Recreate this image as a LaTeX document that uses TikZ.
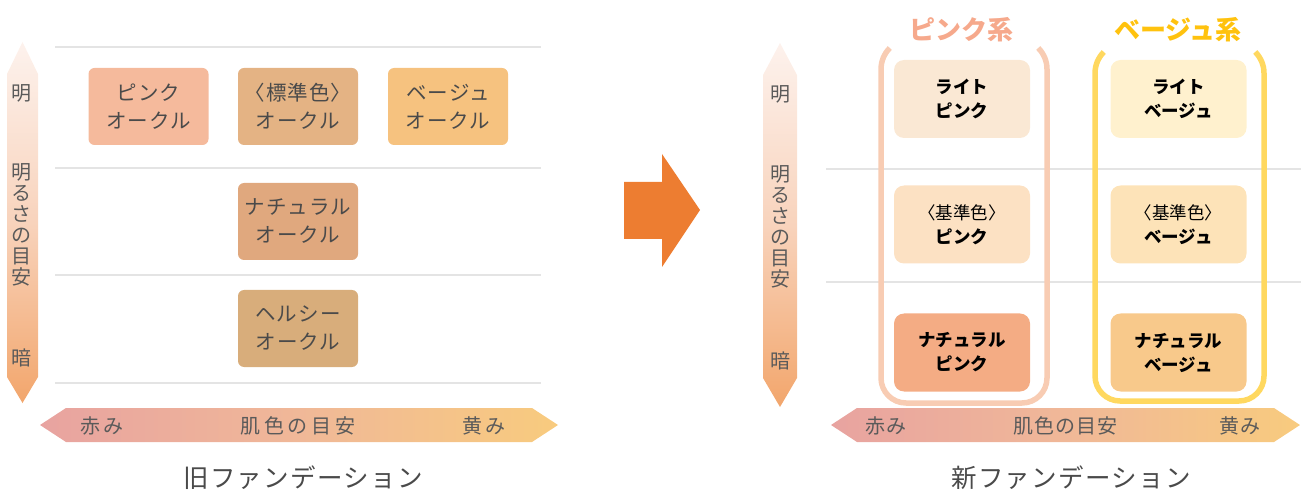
\documentclass[tikz,border=0pt]{standalone}
\usepackage{fontspec}
\setmainfont{Noto Sans CJK JP}
\newfontfamily\jpwide[LetterSpace=5]{Noto Sans CJK JP}
\newfontfamily\jpwider[LetterSpace=18]{Noto Sans CJK JP}
\definecolor{gridgray}{HTML}{E4E4E4}
\definecolor{oldtext}{HTML}{4A4A4A}
\definecolor{axistext}{HTML}{5A5A5A}
\definecolor{oldpink}{HTML}{F5BA9C}
\definecolor{oldstd}{HTML}{E4B384}
\definecolor{oldbeige}{HTML}{F6C27F}
\definecolor{oldnat}{HTML}{E0A87E}
\definecolor{oldhealth}{HTML}{D8AD7B}
\definecolor{ltpinkc}{HTML}{FAE8D4}
\definecolor{ltbeigec}{HTML}{FFF1CE}
\definecolor{stdpinkc}{HTML}{FCE1C3}
\definecolor{stdbeigec}{HTML}{FDE3B8}
\definecolor{natpinkc}{HTML}{F4AC84}
\definecolor{natbeigec}{HTML}{F8C98B}
\definecolor{pinkline}{HTML}{F8CCB3}
\definecolor{beigeline}{HTML}{FFD85F}
\definecolor{pinkhead}{HTML}{F6A98C}
\definecolor{beigehead}{HTML}{FFC20E}
\definecolor{vtop}{HTML}{FDF2ED}
\definecolor{vmid}{HTML}{F8D3BC}
\definecolor{vbot}{HTML}{F2A66C}
\definecolor{hleft}{HTML}{E8A3A0}
\definecolor{hmid}{HTML}{F0B898}
\definecolor{hright}{HTML}{F8CB7E}
\definecolor{bigorange}{HTML}{ED7D31}
\begin{document}
\begin{tikzpicture}[x=1pt,y=1pt,
  gridline/.style={draw=gridgray,line width=1.3pt},
  oldbox/.style={fill=#1,rounded corners=6pt,minimum width=120pt,minimum height=77pt,align=center,text=oldtext,font=\jpwide\fontsize{20.5}{28}\selectfont},
  newbox/.style={fill=#1,rounded corners=10pt,minimum width=136pt,minimum height=78pt,align=center,font=\fontsize{17.5}{24}\selectfont\bfseries},
  axislabel/.style={text=axistext,align=center,font=\fontsize{20}{21}\selectfont},
  hlabel/.style={text=axistext,font=\jpwide\fontsize{20}{22}\selectfont},
  bracket/.style={draw=#1,line width=5.5pt},
  head/.style={text=#1,font=\fontsize{26}{30}\selectfont\bfseries},
  title/.style={text=oldtext,font=\jpwide\fontsize{25.5}{28}\selectfont}]
\useasboundingbox (0,0) rectangle (1301,-494);
\def\R{30}

\draw[gridline] (55,-47) -- (541,-47);
\draw[gridline] (55,-168) -- (541,-168);
\draw[gridline] (55,-275) -- (541,-275);
\draw[gridline] (55,-383) -- (541,-383);
\draw[gridline] (826,-169) -- (1301,-169);
\draw[gridline] (826,-282) -- (1301,-282);

\shade[top color=vtop,bottom color=vbot,middle color=vmid] (22.5,-42) -- (38,-74) -- (38,-377) -- (22.5,-403) -- (7,-377) -- (7,-74) -- cycle;
\shade[top color=vtop,bottom color=vbot,middle color=vmid] (780,-43) -- (797,-75) -- (797,-378) -- (780,-407) -- (763,-378) -- (763,-75) -- cycle;
\shade[left color=hleft,right color=hright,middle color=hmid] (40,-425) -- (66,-408) -- (532,-408) -- (558,-425) -- (532,-442) -- (66,-442) -- cycle;
\shade[left color=hleft,right color=hright,middle color=hmid] (831,-425) -- (857,-408) -- (1274,-408) -- (1300,-425) -- (1274,-442) -- (857,-442) -- cycle;

\node[axislabel] (lbright) at (21.5,-93) {明};
\node[axislabel] (lbscale) at (21.5,-225) {明\\る\\さ\\の\\目\\安};
\node[axislabel] (lbdark) at (21.5,-358) {暗};
\node[axislabel] (rbright) at (780,-94) {明};
\node[axislabel] (rbscale) at (780,-227) {明\\る\\さ\\の\\目\\安};
\node[axislabel] (rbdark) at (780,-361) {暗};

\node[hlabel] (lred) at (102,-426) {\jpwider 赤み};
\node[hlabel] (lskin) at (298,-426) {\jpwider 肌色の目安};
\node[hlabel] (lyellow) at (484,-426) {\jpwider 黄み};
\node[hlabel] (rred) at (886,-426) {赤み};
\node[hlabel] (rskin) at (1065,-426) {肌色の目安};
\node[hlabel] (ryellow) at (1240,-426) {黄み};

\node[oldbox=oldpink] (pinkoc) at (148.5,-106.5) {ピンク\\オークル};
\node[oldbox=oldstd] (stdoc) at (298,-106.5) {〈標準色〉\\オークル};
\node[oldbox=oldbeige] (beigeoc) at (448,-106.5) {ベージュ\\オークル};
\node[oldbox=oldnat] (natoc) at (298,-221.5) {ナチュラル\\オークル};
\node[oldbox=oldhealth] (healthoc) at (298,-328.5) {ヘルシー\\オークル};

\fill[bigorange] (624,-182) -- (662,-182) -- (662,-154) -- (700,-210) -- (662,-267) -- (662,-239) -- (624,-239) -- cycle;

\draw[bracket=pinkline] (889.8,-48) arc[start angle=135,end angle=180,radius=\R] -- (881,-378) arc[start angle=180,end angle=270,radius=25] -- (1022,-403) arc[start angle=270,end angle=360,radius=25] -- (1047,-69.2) arc[start angle=0,end angle=45,radius=\R];
\draw[bracket=beigeline] (1103.8,-52) arc[start angle=135,end angle=180,radius=\R] -- (1095,-376) arc[start angle=180,end angle=270,radius=25] -- (1239,-401) arc[start angle=270,end angle=360,radius=25] -- (1264,-73.2) arc[start angle=0,end angle=45,radius=\R];

\node[head=pinkhead] (pinkcap) at (961,-30) {ピンク系};
\node[head=beigehead] (beigecap) at (1178,-30) {ベージュ系};

\node[newbox=ltpinkc] (ltpink) at (962,-99) {ライト\\ピンク};
\node[newbox=ltbeigec] (ltbeige) at (1178.5,-99) {ライト\\ベージュ};
\node[newbox=stdpinkc] (stdpink) at (962,-224.5) {{\mdseries〈基準色〉}\\ピンク};
\node[newbox=stdbeigec] (stdbeige) at (1178.5,-224.5) {{\mdseries〈基準色〉}\\ベージュ};
\node[newbox=natpinkc] (natpink) at (962,-352.5) {ナチュラル\\ピンク};
\node[newbox=natbeigec] (natbeige) at (1178.5,-352.5) {ナチュラル\\ベージュ};

\node[title] (oldtitle) at (303,-478) {旧ファンデーション};
\node[title] (newtitle) at (1071,-478) {新ファンデーション};
\end{tikzpicture}
\end{document}
